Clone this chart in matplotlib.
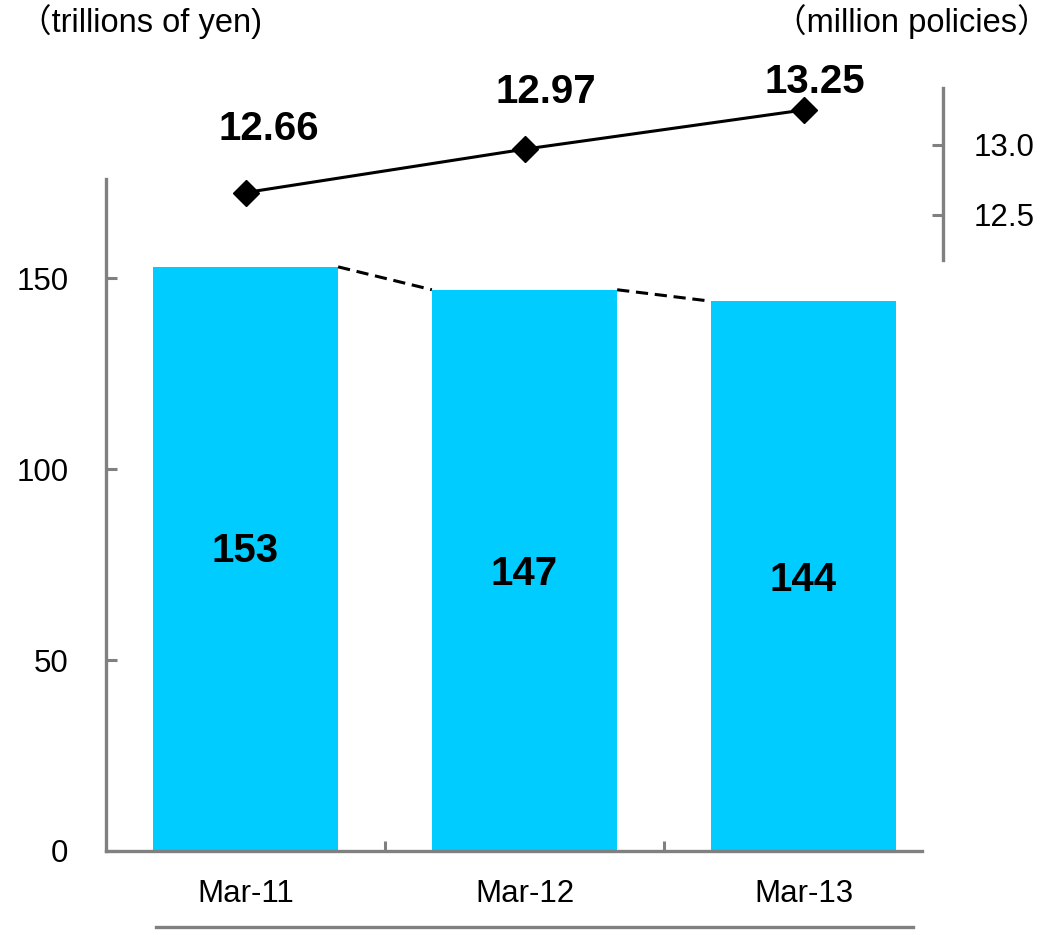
import matplotlib
matplotlib.use("Agg")
import matplotlib.pyplot as plt
from matplotlib.lines import Line2D

# Data
categories = ["Mar-11", "Mar-12", "Mar-13"]
amounts = [153, 147, 144]           # trillions of yen
policies = [12.66, 12.97, 13.25]    # million policies
left_ticks = [0, 50, 100, 150]
right_ticks = [12.5, 13.0]

W, H = 1053, 935
DPI = 100
plt.rcParams["font.family"] = ["Liberation Sans", "Noto Sans CJK JP", "DejaVu Sans"]

fig = plt.figure(figsize=(W / DPI, H / DPI), dpi=DPI)

# axes box in pixels: x 106..943, y 40..851 (from top)
ax_l, ax_r, ax_t, ax_b = 106, 943, 40, 851
ax = fig.add_axes([ax_l / W, (H - ax_b) / H, (ax_r - ax_l) / W, (ax_b - ax_t) / H])

grey = "#808080"
bar_color = "#00CCFF"
bar_w = 0.664
x = list(range(len(categories)))

ax.bar(x, amounts, width=bar_w, color=bar_color, zorder=2)

# dashed connectors between bar tops
for i in range(len(amounts) - 1):
    ax.plot([x[i] + bar_w / 2, x[i + 1] - bar_w / 2], [amounts[i], amounts[i + 1]],
            color="black", lw=2.2, ls=(0, (4, 2.2)), zorder=3)

# value labels inside the bars
label_shift = [2, -1, -1]
for xi, v, s in zip(x, amounts, label_shift):
    ax.text(xi, v / 2 + s, f"{v}", ha="center", va="center", fontsize=29,
            fontweight="bold", color="black", zorder=4)

px_per_unit_left = 3.818
ax.set_xlim(-0.5, 2.5)
ax.set_ylim(0, (ax_b - ax_t) / px_per_unit_left)

for s in ["top", "right"]:
    ax.spines[s].set_visible(False)
for s in ["left", "bottom"]:
    ax.spines[s].set_color(grey)
    ax.spines[s].set_linewidth(2.4)
ax.spines["left"].set_bounds(0, 176)
ax.spines["bottom"].set_bounds(-0.5, 2.425)

ax.set_yticks(left_ticks)
ax.set_yticklabels([str(t) for t in left_ticks])
ax.tick_params(axis="y", direction="in", length=8, width=2.2, color=grey,
               labelsize=22.5, pad=27)
ax.set_xticks(x)
ax.set_xticklabels(categories)
ax.set_xticks([0.5, 1.5], minor=True)
ax.tick_params(axis="x", which="major", length=0, labelsize=22.5, pad=20)
ax.tick_params(axis="x", which="minor", direction="in", length=7, width=2.2, color=grey)

# secondary axis for policy counts
ax2 = ax.twinx()
px_per_unit_right = 140.0
ref_val, ref_px = 12.5, 215
ax2.set_ylim(ref_val - (ax_b - ref_px) / px_per_unit_right,
             ref_val + (ref_px - ax_t) / px_per_unit_right)
for s in ["top", "left", "bottom"]:
    ax2.spines[s].set_visible(False)
ax2.spines["right"].set_color(grey)
ax2.spines["right"].set_linewidth(2.4)
ax2.spines["right"].set_bounds(12.179, 13.407)
ax2.set_yticks(right_ticks)
ax2.set_yticklabels([f"{t:.1f}" for t in right_ticks])
ax2.tick_params(axis="y", direction="in", length=8, width=2.2, color=grey,
                labelsize=22.5, pad=22)

ax2.plot(x, policies, color="black", lw=2.2, marker="D", markersize=13,
         markerfacecolor="black", markeredgecolor="black", zorder=5)

label_offsets = [(23, 64), (21, 57), (11, 28)]
for xi, v, (dx, dy) in zip(x, policies, label_offsets):
    ax2.annotate(f"{v:.2f}", (xi, v), xytext=(dx, dy), textcoords="offset pixels",
                 ha="center", va="center", fontsize=29, fontweight="bold")

# unit captions
fig.text(19 / W, 1 - 22 / H, "（trillions of yen)", ha="left", va="center", fontsize=23.5)
fig.text(1050 / W, 1 - 22 / H, "（million policies）", ha="right", va="center", fontsize=23.5)

# rule under the category labels
fig.add_artist(Line2D([156 / W, 913 / W], [1 - 927 / H, 1 - 927 / H],
                      transform=fig.transFigure, color=grey, lw=2.4))

fig.savefig("out.png", dpi=DPI)
